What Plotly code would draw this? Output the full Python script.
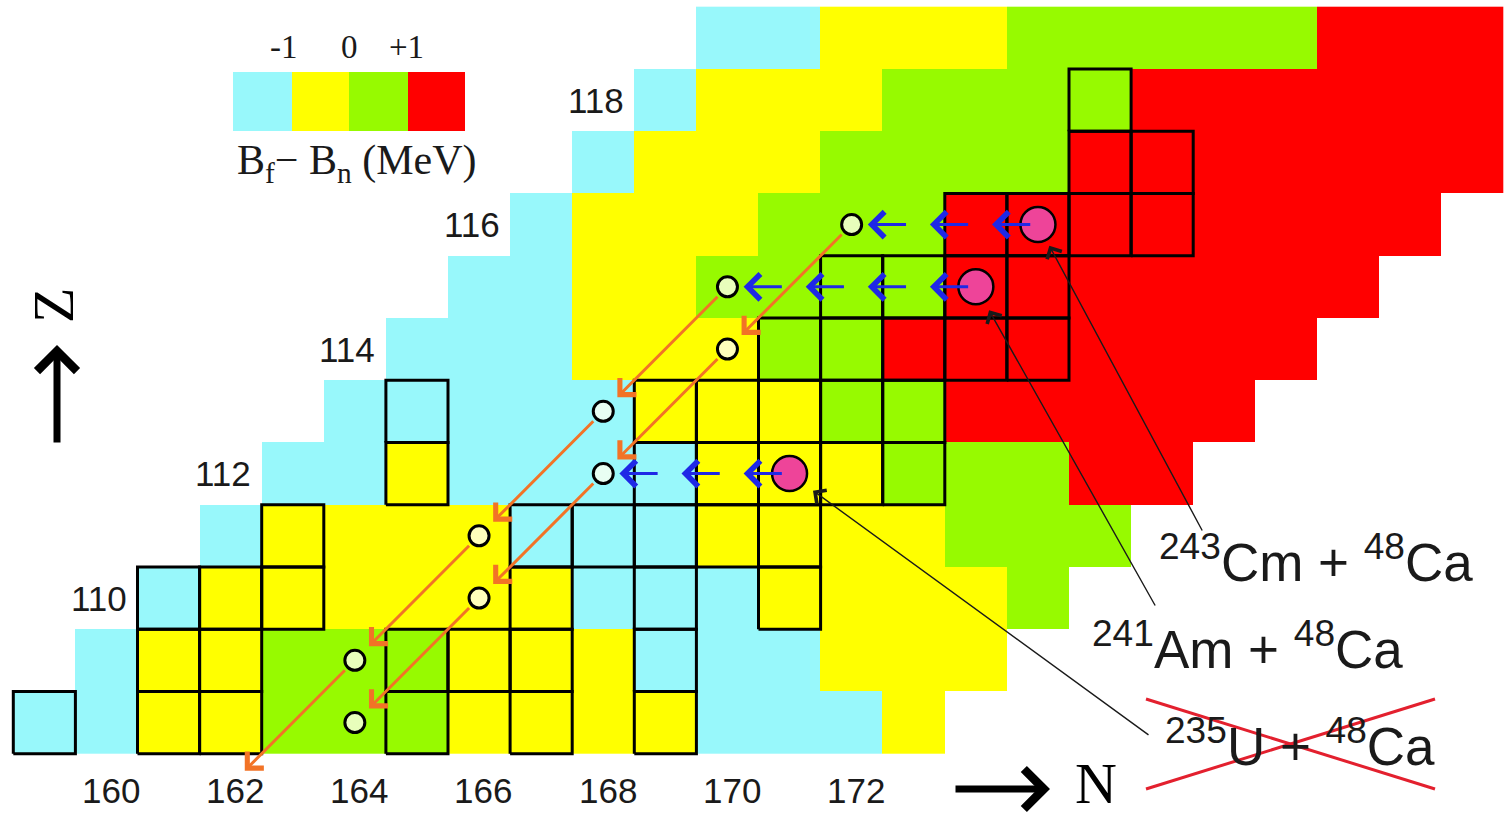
import plotly.graph_objects as go

# ------------------------------------------------------------------ data
# Bf - Bn category per nuclide: C < -1, Y -1..0, G 0..+1, R > +1 (MeV)
CATEGORY_CODES = ["C", "Y", "G", "R"]
CATEGORY_COLORS = ["#98F8FB", "#FFFF00", "#97FA00", "#FF0000"]
LEGEND_TICKS = ["-1", "0", "+1"]

Z_ROWS = [108, 109, 110, 111, 112, 113, 114, 115, 116, 117, 118, 119]
FIRST_N = [159, 160, 161, 162, 163, 164, 165, 166, 167, 168, 169, 170]

ROW_108 = list("CCYYGGGYYYYCCCY")
ROW_109 = list("CYYGGGYYYCCCYYY")
ROW_110 = list("CYYYYYYCCCYYYYG")
ROW_111 = list("CYYYYCCCYYYYGGG")
ROW_112 = list("CCYCCCCYYYGGGRR")
ROW_113 = list("CCCCCYYYGGRRRRR")
ROW_114 = list("CCCYYYGGRRRRRRR")
ROW_115 = list("CCYYGGGGRRRRRRR")
ROW_116 = list("CYYYGGGRRRRRRRR")
ROW_117 = list("CYYYGGGGRRRRRRR")
ROW_118 = list("CYYYGGGGRRRRRR")
ROW_119 = list("CCYYYGGGGGRRR")
ROWS = [ROW_108, ROW_109, ROW_110, ROW_111, ROW_112, ROW_113,
        ROW_114, ROW_115, ROW_116, ROW_117, ROW_118, ROW_119]

# known (boxed) nuclides, N per Z
KNOWN_108 = [159, 161, 162, 165, 167, 169]
KNOWN_109 = [161, 162, 165, 166, 167, 169]
KNOWN_110 = [161, 162, 163, 167, 169, 171]
KNOWN_111 = [163, 167, 168, 169, 170, 171]
KNOWN_112 = [165, 169, 170, 171, 172, 173]
KNOWN_113 = [165, 169, 170, 171, 172, 173]
KNOWN_114 = [171, 172, 173, 174, 175]
KNOWN_115 = [172, 173, 174, 175]
KNOWN_116 = [174, 175, 176, 177]
KNOWN_117 = [176, 177]
KNOWN_118 = [176]
KNOWN = [KNOWN_108, KNOWN_109, KNOWN_110, KNOWN_111, KNOWN_112, KNOWN_113,
         KNOWN_114, KNOWN_115, KNOWN_116, KNOWN_117, KNOWN_118, []]

# compound nuclei of the reactions
CN_N = [175, 174, 171]
CN_Z = [116, 115, 112]
REACTIONS = ["<sup>243</sup>Cm + <sup>48</sup>Ca",
             "<sup>241</sup>Am + <sup>48</sup>Ca",
             "<sup>235</sup>U + <sup>48</sup>Ca"]
# evaporation residues (small circles)
ER_N = [172, 170, 170, 168, 168, 166, 166, 164, 164]
ER_Z = [116, 115, 114, 113, 112, 111, 110, 109, 108]
# neutron evaporation: from CN to first residue
XN_FROM_N = [175, 174, 171]
XN_TO_N = [172, 170, 168]
XN_Z = [116, 115, 112]
# alpha decays: parent (N, Z) -> (N-2, Z-2)
ALPHA_N = [172, 170, 168, 166, 170, 168, 166, 164]
ALPHA_Z = [116, 114, 112, 110, 115, 113, 111, 109]

N_TICKS = [160, 162, 164, 166, 168, 170, 172]
Z_TICKS = [110, 112, 114, 116, 118]

# ------------------------------------------------------------------ geometry helpers (layout only)
PX_PER_N = 62.1
PX_PER_Z = 62.25
X0 = 158.5 - 13.3 / PX_PER_N
Y1 = 119.5 + 6.7 / PX_PER_Z
W, H = 1506, 815


def nx(px):
    return X0 + px / PX_PER_N


def zy(py):
    return Y1 - py / PX_PER_Z


SANS = "Liberation Sans, Arial, sans-serif"
SERIF = "Liberation Serif, Times New Roman, serif"
TXT = "#1a1a1a"

# ------------------------------------------------------------------ heatmap matrix
Ns = list(range(159, 183))
zmat = []
for n0, row in zip(FIRST_N, ROWS):
    line = [None] * len(Ns)
    for i, code in enumerate(row):
        line[n0 + i - Ns[0]] = CATEGORY_CODES.index(code)
    zmat.append(line)

colorscale = []
for i, c in enumerate(CATEGORY_COLORS):
    colorscale.append([i / 4, c])
    colorscale.append([(i + 1) / 4, c])

fig = go.Figure()
fig.add_trace(go.Heatmap(x=Ns, y=Z_ROWS, z=zmat, zmin=-0.5, zmax=3.5,
                         colorscale=colorscale, showscale=False,
                         hoverinfo="skip", xgap=0, ygap=0))

# boxes of known nuclides
bx, by = [], []
for Zv, nlist in zip(Z_ROWS, KNOWN):
    for n in nlist:
        bx += [n - 0.5, n + 0.5, n + 0.5, n - 0.5, n - 0.5, None]
        by += [Zv - 0.5, Zv - 0.5, Zv + 0.5, Zv + 0.5, Zv - 0.5, None]
fig.add_trace(go.Scatter(x=bx, y=by, mode="lines",
                         line=dict(color="black", width=3),
                         hoverinfo="skip", showlegend=False))

# evaporation residues
fig.add_trace(go.Scatter(x=ER_N, y=ER_Z, mode="markers",
                         marker=dict(size=20, color="rgba(255,255,240,0.78)",
                                     line=dict(color="black", width=3)),
                         hoverinfo="skip", showlegend=False))
# compound nuclei
fig.add_trace(go.Scatter(x=CN_N, y=CN_Z, mode="markers",
                         marker=dict(size=35, color="#EE4499",
                                     line=dict(color="black", width=2.5)),
                         hoverinfo="skip", showlegend=False))

ann = []
shapes = []

# neutron evaporation arrows (blue)
for n_from, n_to, Zv in zip(XN_FROM_N, XN_TO_N, XN_Z):
    for n in range(n_from, n_to, -1):
        ann.append(dict(x=n - 0.74, y=Zv, ax=n - 0.1, ay=Zv,
                        xref="x", yref="y", axref="x", ayref="y", text="",
                        showarrow=True, arrowhead=4, arrowsize=1.65,
                        arrowwidth=3, arrowcolor="#1f28e6"))

# alpha decay arrows (orange)
for n, Zv in zip(ALPHA_N, ALPHA_Z):
    ann.append(dict(x=n - 2, y=Zv - 2, ax=n, ay=Zv,
                    xref="x", yref="y", axref="x", ayref="y", text="",
                    showarrow=True, arrowhead=4, arrowsize=1.5,
                    arrowwidth=3, arrowcolor="#F27326",
                    standoff=20, startstandoff=12))

# reaction labels with leader arrows
LABEL_POS_PX = [(1157, 594), (1090, 681), (1163, 778)]
LEADER_TAIL_PX = [(1203, 532), (1156, 607), (1150, 736)]
LEADER_STANDOFF = [24, 27, 29]
for txt, (lx, ly), (tx, ty), n, Zv, so in zip(REACTIONS, LABEL_POS_PX, LEADER_TAIL_PX,
                                             CN_N, CN_Z, LEADER_STANDOFF):
    ann.append(dict(x=nx(lx), y=zy(ly), xref="x", yref="y", text=txt,
                    showarrow=False, xanchor="left", yanchor="bottom",
                    font=dict(family=SANS, size=53, color=TXT)))
    ann.append(dict(x=n, y=Zv, ax=nx(tx), ay=zy(ty),
                    xref="x", yref="y", axref="x", ayref="y", text="",
                    showarrow=True, arrowhead=4, arrowsize=2.3,
                    arrowwidth=1.4, arrowcolor="#1a1a1a", standoff=so))

# red cross over the 235U reaction
for (x0, y0, x1, y1) in [(1146, 699, 1435, 789), (1146, 789, 1435, 699)]:
    shapes.append(dict(type="line", xref="x", yref="y",
                       x0=nx(x0), y0=zy(y0), x1=nx(x1), y1=zy(y1),
                       line=dict(color="#E3202E", width=3)))

# axis number labels
for n in N_TICKS:
    ann.append(dict(x=n + 0.07, y=zy(790), xref="x", yref="y", text=str(n),
                    showarrow=False, font=dict(family=SANS, size=35, color=TXT)))
for Zv in Z_TICKS:
    ann.append(dict(x=Zv + 50 - 0.12, y=Zv, xref="x", yref="y", text=str(Zv),
                    showarrow=False, font=dict(family=SANS, size=35, color=TXT)))

# Z and N axis markers
ann.append(dict(x=nx(53), y=zy(306), xref="x", yref="y", text="Z", textangle=-90,
                showarrow=False, font=dict(family=SERIF, size=58, color="black")))
ann.append(dict(x=nx(57), y=zy(345), ax=nx(57), ay=zy(444),
                xref="x", yref="y", axref="x", ayref="y", text="",
                showarrow=True, arrowhead=4, arrowsize=1.1, arrowwidth=7,
                arrowcolor="black"))
ann.append(dict(x=nx(1050), y=zy(789), ax=nx(954), ay=zy(789),
                xref="x", yref="y", axref="x", ayref="y", text="",
                showarrow=True, arrowhead=4, arrowsize=1.1, arrowwidth=7,
                arrowcolor="black"))
ann.append(dict(x=nx(1096), y=zy(783), xref="x", yref="y", text="N",
                showarrow=False, font=dict(family=SERIF, size=58, color="black")))

# colour legend
LEGEND_EDGES_PX = [233, 292, 349, 408, 465]
for i, c in enumerate(CATEGORY_COLORS):
    shapes.append(dict(type="rect", xref="x", yref="y",
                       x0=nx(LEGEND_EDGES_PX[i]), x1=nx(LEGEND_EDGES_PX[i + 1]),
                       y0=zy(131), y1=zy(72), fillcolor=c, line=dict(width=0)))
tick_shift = [-8, 0, -2]
for t, e, s in zip(LEGEND_TICKS, LEGEND_EDGES_PX[1:4], tick_shift):
    ann.append(dict(x=nx(e + s), y=zy(47), xref="x", yref="y", text=t,
                    showarrow=False, font=dict(family=SERIF, size=33, color=TXT)))
ann.append(dict(x=nx(235), y=zy(163), xref="x", yref="y",
                text="B<sub>f</sub>\u2212 B<sub>n</sub> (MeV)", xanchor="left",
                showarrow=False, font=dict(family=SERIF, size=42, color=TXT)))

fig.update_layout(
    width=W, height=H, autosize=False,
    margin=dict(l=0, r=0, t=0, b=0),
    paper_bgcolor="white", plot_bgcolor="white",
    xaxis=dict(visible=False, range=[X0, X0 + W / PX_PER_N], fixedrange=True),
    yaxis=dict(visible=False, range=[Y1 - H / PX_PER_Z, Y1], fixedrange=True),
    annotations=ann, shapes=shapes, showlegend=False,
)

fig.write_html("out.html", config={"displayModeBar": False},
               post_script="document.body.style.margin='0';")
